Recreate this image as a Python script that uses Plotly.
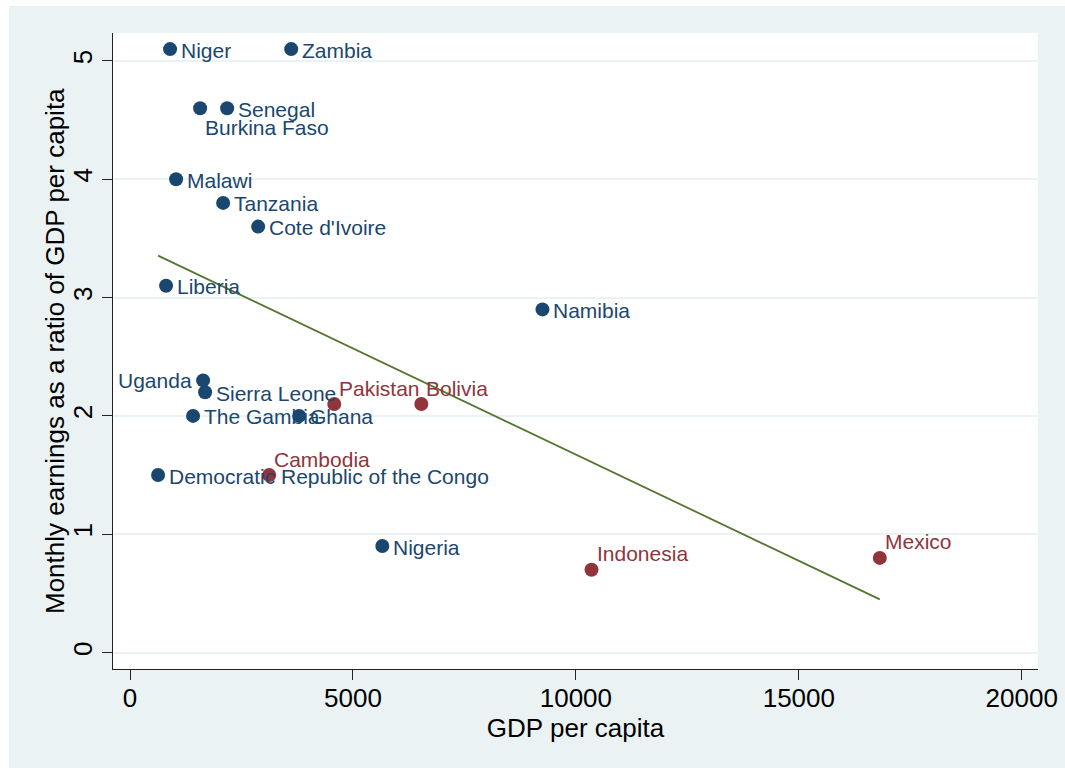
import numpy as np
import plotly.graph_objects as go

# ---- data -------------------------------------------------------------
africa_countries = ["Niger", "Zambia", "Burkina Faso", "Senegal", "Malawi",
                    "Tanzania", "Cote d'Ivoire", "Liberia", "Namibia", "Uganda",
                    "Sierra Leone", "The Gambia", "Ghana",
                    "Democratic Republic of the Congo", "Nigeria"]
africa_gdp = [898, 3615, 1572, 2178, 1033, 2088, 2874, 808, 9250, 1639,
              1684, 1414, 3794, 629, 5658]
africa_ratio = [5.1, 5.1, 4.6, 4.6, 4.0, 3.8, 3.6, 3.1, 2.9, 2.3,
                2.2, 2.0, 2.0, 1.5, 0.9]

other_countries = ["Pakistan", "Bolivia", "Cambodia", "Indonesia", "Mexico"]
other_gdp = [4580, 6533, 3121, 10350, 16816]
other_ratio = [2.1, 2.1, 1.5, 0.7, 0.8]

x_ticks = [0, 5000, 10000, 15000, 20000]
y_ticks = [0, 1, 2, 3, 4, 5]

# ---- styling ----------------------------------------------------------
NAVY = "#1a476f"
MAROON = "#90353b"
GREEN = "#55752f"
BG = "#eaf2f3"
FONT = "Liberation Sans, Arial, Helvetica, sans-serif"

# label placement: (xanchor, xshift, yshift) relative to the marker
PLACE = {
    "right": ("left", 10, -1),
    "left": ("right", -10, 0),
    "below_right": ("left", 4, -19),
    "above_right": ("left", 4, 16),
}
africa_side = {"Burkina Faso": "below_right", "Uganda": "left"}

# linear fit over all observations
all_x = np.array(africa_gdp + other_gdp, dtype=float)
all_y = np.array(africa_ratio + other_ratio, dtype=float)
slope, intercept = np.polyfit(all_x, all_y, 1)
fit_x = np.array([all_x.min(), all_x.max()])
fit_y = intercept + slope * fit_x

W, H = 1065, 770
ML, MR, MT, MB = 113, 27, 33, 101
PW, PH = W - ML - MR, H - MT - MB

fig = go.Figure()

fig.add_trace(go.Scatter(
    x=fit_x, y=fit_y, mode="lines",
    line=dict(color=GREEN, width=1.8), hoverinfo="skip", showlegend=False))

fig.add_trace(go.Scatter(
    x=africa_gdp, y=africa_ratio, mode="markers", text=africa_countries,
    marker=dict(color=NAVY, size=14, line=dict(width=0)),
    showlegend=False))

fig.add_trace(go.Scatter(
    x=other_gdp, y=other_ratio, mode="markers", text=other_countries,
    marker=dict(color=MAROON, size=14, line=dict(width=0)),
    showlegend=False))


def add_labels(names, xs, ys, color, sides, default):
    for name, xv, yv in zip(names, xs, ys):
        anchor, dx, dy = PLACE[sides.get(name, default)]
        fig.add_annotation(
            x=xv, y=yv, text=name, showarrow=False,
            xanchor=anchor, yanchor="middle", xshift=dx, yshift=dy,
            font=dict(family=FONT, size=21, color=color), borderpad=0)


add_labels(africa_countries, africa_gdp, africa_ratio, NAVY, africa_side, "right")
add_labels(other_countries, other_gdp, other_ratio, MAROON, {}, "above_right")

# y-axis title placed beside the tick labels
fig.add_annotation(
    xref="paper", yref="paper", x=(55 - ML) / PW, y=0.5,
    text="Monthly earnings as a ratio of GDP per capita", textangle=-90,
    showarrow=False, xanchor="center", yanchor="middle",
    font=dict(family=FONT, size=26, color="black"))

# outer graph region and white plot region
fig.add_shape(type="rect", xref="paper", yref="paper", layer="below",
              x0=(9 - ML) / PW, x1=(W + 5 - ML) / PW,
              y0=(MT + PH - 768) / PH, y1=(MT + PH - 6) / PH,
              fillcolor=BG, line=dict(width=0))
fig.add_shape(type="rect", xref="paper", yref="paper", layer="below",
              x0=0, x1=1, y0=0, y1=1,
              fillcolor="white", line=dict(width=0))

axis_common = dict(
    showline=True, linecolor="#222222", linewidth=1,
    ticks="outside", ticklen=10, tickwidth=1, tickcolor="#222222",
    tickfont=dict(family=FONT, size=26, color="black"),
    zeroline=False,
)

fig.update_xaxes(
    range=[-382, 20364], tickvals=x_ticks, ticktext=[str(v) for v in x_ticks],
    showgrid=False, ticklabelstandoff=-4,
    title=dict(text="GDP per capita", font=dict(family=FONT, size=26, color="black"),
               standoff=6),
    **axis_common)

fig.update_yaxes(
    range=[-0.139, 5.236], tickvals=y_ticks, ticktext=[str(v) for v in y_ticks],
    tickangle=-90, showgrid=True, gridcolor=BG, gridwidth=2,
    **axis_common)

fig.update_layout(
    width=W, height=H,
    margin=dict(l=ML, r=MR, t=MT, b=MB, autoexpand=False),
    paper_bgcolor="white", plot_bgcolor="white",
    font=dict(family=FONT),
)

fig.write_html("out.html")
